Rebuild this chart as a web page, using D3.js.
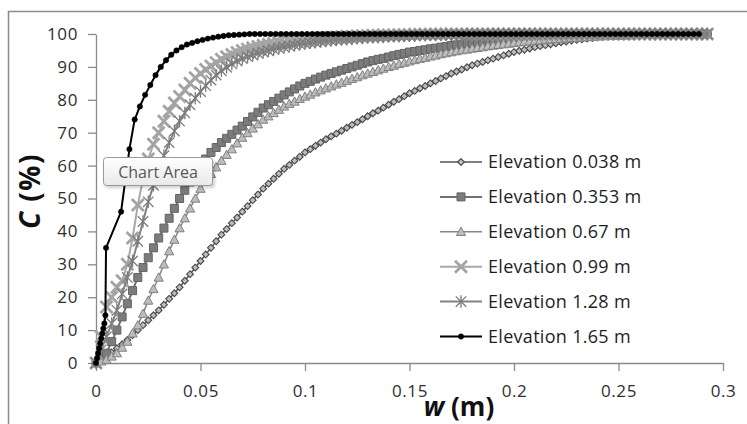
<!DOCTYPE html>
<html>
<head>
<meta charset="utf-8">
<script src="https://cdn.jsdelivr.net/npm/d3@7"></script>
<style>
  html, body { margin: 0; padding: 0; background: #fff; }
  svg { display: block; font-family: "Open Sans", "Noto Sans", sans-serif; }
</style>
</head>
<body>
<svg id="chart" width="747" height="424"></svg>
<script>
// Shared width grid (m) for the first five elevations
const W = [
  0, 0.0025, 0.005, 0.0075,
  0.01, 0.0125, 0.015, 0.0175,
  0.02, 0.0225, 0.025, 0.0275,
  0.03, 0.0325, 0.035, 0.0375,
  0.04, 0.0425, 0.045, 0.0475,
  0.05, 0.0525, 0.055, 0.0575,
  0.06, 0.0625, 0.065, 0.0675,
  0.07, 0.0725, 0.075, 0.0775,
  0.08, 0.0825, 0.085, 0.0875,
  0.09, 0.0925, 0.095, 0.0975,
  0.1, 0.1025, 0.105, 0.1075,
  0.11, 0.1125, 0.115, 0.1175,
  0.12, 0.1225, 0.125, 0.1275,
  0.13, 0.1325, 0.135, 0.1375,
  0.14, 0.1425, 0.145, 0.1475,
  0.15, 0.1525, 0.155, 0.1575,
  0.16, 0.1625, 0.165, 0.1675,
  0.17, 0.1725, 0.175, 0.1775,
  0.18, 0.1825, 0.185, 0.1875,
  0.19, 0.1925, 0.195, 0.1975,
  0.2, 0.2025, 0.205, 0.2075,
  0.21, 0.2125, 0.215, 0.2175,
  0.22, 0.2225, 0.225, 0.2275,
  0.23, 0.2325, 0.235, 0.2375,
  0.24, 0.2425, 0.245, 0.2475,
  0.25, 0.2525, 0.255, 0.2575,
  0.26, 0.2625, 0.265, 0.2675,
  0.27, 0.2725, 0.275, 0.2775,
  0.28, 0.2825, 0.285, 0.2875,
  0.29, 0.2925
];

// C (%) at each width in W
const c038 = [
  0, 0.9, 2, 3.2, 4.5, 5.7, 7, 8.5, 10, 11.5, 13, 14.5, 16, 17.7, 19.5, 21.2,
  23, 25, 27, 29, 31, 33, 35, 37, 39, 40.7, 42.5, 44.2, 46, 47.7, 49.5, 51.2,
  53, 54.5, 56, 57.5, 59, 60.2, 61.5, 62.7, 64, 65, 66, 67, 68, 68.9, 69.7, 70.6,
  71.5, 72.4, 73.2, 74.1, 75, 75.9, 76.7, 77.6, 78.5, 79.4, 80.2, 81.1,
  82, 82.7, 83.5, 84.2, 85, 85.7, 86.5, 87.2, 88, 88.6, 89.2, 89.9,
  90.5, 91, 91.5, 92, 92.5, 93, 93.5, 94, 94.5, 94.9, 95.2, 95.6,
  96, 96.3, 96.6, 96.9, 97.2, 97.5, 97.7, 98, 98.2, 98.4, 98.6, 98.8,
  99, 99.1, 99.2, 99.4, 99.5, 99.6, 99.7, 99.7, 99.8, 99.9, 99.9, 100,
  100, 100, 100, 100, 100, 100, 100, 100, 100, 100
];
const c353 = [
  0, 1.3, 3, 6.5, 10, 14, 18, 22, 26, 29, 32, 35, 38, 41, 44, 47,
  50, 52.5, 55, 57.5, 60, 62, 64, 65.5, 67, 68.3, 69.5, 70.8, 72, 73.4, 74.8, 76.2,
  77.5, 78.5, 79.5, 80.5, 81.5, 82.4, 83.3, 84.2, 85, 85.6, 86.3, 86.9, 87.5, 88, 88.5, 89,
  89.5, 90, 90.5, 91, 91.5, 91.9, 92.3, 92.6, 93, 93.4, 93.8, 94.1,
  94.5, 94.7, 95, 95.2, 95.5, 95.7, 96, 96.2, 96.5, 96.7, 96.9, 97.1,
  97.3, 97.5, 97.7, 97.8, 98, 98.1, 98.3, 98.4, 98.5, 98.7, 98.8, 99,
  99.1, 99.1, 99.2, 99.3, 99.3, 99.4, 99.4, 99.5, 99.5, 99.6, 99.6, 99.6,
  99.7, 99.7, 99.8, 99.8, 99.8, 99.8, 99.9, 99.9, 99.9, 99.9, 100, 100,
  100, 100, 100, 100, 100, 100, 100, 100, 100, 100
];
const c067 = [
  0, 0.5, 1, 2, 3, 4.7, 6.5, 9, 11.5, 15, 19, 22.5, 26, 30, 34, 37.5,
  41, 44, 47, 50, 53, 55.3, 57.5, 59.5, 61.5, 63.3, 65, 66.8, 68.5, 69.9, 71.3, 72.6,
  74, 75, 76, 77, 78, 78.8, 79.5, 80.3, 81, 81.6, 82.3, 82.9, 83.5, 84.1, 84.7, 85.2,
  85.8, 86.4, 86.9, 87.5, 88, 88.5, 89, 89.5, 90, 90.4, 90.9, 91.3,
  91.7, 92.1, 92.5, 92.8, 93.2, 93.5, 93.9, 94.2, 94.5, 94.8, 95.1, 95.3,
  95.6, 95.8, 96, 96.3, 96.5, 96.7, 96.9, 97.1, 97.3, 97.5, 97.7, 97.8,
  98, 98.1, 98.3, 98.4, 98.5, 98.6, 98.7, 98.8, 98.9, 99, 99.1, 99.2,
  99.3, 99.4, 99.4, 99.5, 99.5, 99.6, 99.6, 99.7, 99.7, 99.8, 99.8, 99.9,
  99.9, 99.9, 100, 100, 100, 100, 100, 100, 100, 100
];
const c099 = [
  0, 8, 17, 20, 23, 25, 30, 38, 48, 56, 62, 66.5, 70, 73.5, 76.5, 79,
  81, 83, 85, 86.7, 88, 89.2, 90.3, 91.3, 92.3, 93.1, 93.8, 94.4, 95, 95.4, 95.8, 96.2,
  96.6, 96.9, 97.1, 97.4, 97.6, 97.8, 98, 98.2, 98.3, 98.5, 98.6, 98.8, 98.9, 99, 99.1, 99.2,
  99.3, 99.3, 99.4, 99.5, 99.5, 99.6, 99.6, 99.7, 99.7, 99.7, 99.8, 99.8,
  99.8, 99.9, 99.9, 99.9, 99.9, 100, 100, 100, 100, 100, 100, 100,
  100, 100, 100, 100, 100, 100, 100, 100, 100, 100, 100, 100,
  100, 100, 100, 100, 100, 100, 100, 100, 100, 100, 100, 100,
  100, 100, 100, 100, 100, 100, 100, 100, 100, 100, 100, 100,
  100, 100, 100, 100, 100, 100, 100, 100, 100, 100
];
const c128 = [
  0, 4, 8, 12, 16, 21, 26, 31, 37, 43, 49, 54, 59, 63, 67, 70.5,
  73.5, 76, 78.5, 80.5, 82.5, 84.3, 86, 87.5, 88.8, 89.9, 90.9, 91.8, 92.5, 93.1, 93.6, 94.1,
  94.5, 94.9, 95.3, 95.7, 96, 96.3, 96.6, 96.9, 97.1, 97.3, 97.5, 97.7, 97.9, 98, 98.2, 98.3,
  98.4, 98.5, 98.7, 98.8, 98.9, 99, 99, 99.1, 99.2, 99.3, 99.3, 99.4,
  99.5, 99.5, 99.6, 99.6, 99.7, 99.7, 99.7, 99.8, 99.8, 99.8, 99.8, 99.9,
  99.9, 99.9, 99.9, 99.9, 100, 100, 100, 100, 100, 100, 100, 100,
  100, 100, 100, 100, 100, 100, 100, 100, 100, 100, 100, 100,
  100, 100, 100, 100, 100, 100, 100, 100, 100, 100, 100, 100,
  100, 100, 100, 100, 100, 100, 100, 100, 100, 100
];

// Elevation 1.65 m has its own width sampling
const w165 = [
  0, 0.0005, 0.001, 0.0015, 0.002, 0.0025, 0.003, 0.0035, 0.004, 0.0045, 0.0048, 0.012,
  0.016, 0.0185, 0.021, 0.0235, 0.026, 0.0285, 0.031, 0.0335, 0.036, 0.0385,
  0.041, 0.0435, 0.046, 0.0485, 0.051, 0.0535, 0.056, 0.0585, 0.061, 0.0635,
  0.066, 0.0685, 0.071, 0.0735, 0.076, 0.0785, 0.081, 0.0835, 0.086, 0.0885,
  0.091, 0.0935, 0.096, 0.0985, 0.101, 0.1035, 0.106, 0.1085, 0.111, 0.1135,
  0.116, 0.1185, 0.121, 0.1235, 0.126, 0.1285, 0.131, 0.1335, 0.136, 0.1385,
  0.141, 0.1435, 0.146, 0.1485, 0.151, 0.1535, 0.156, 0.1585, 0.161, 0.1635,
  0.166, 0.1685, 0.171, 0.1735, 0.176, 0.1785, 0.181, 0.1835, 0.186, 0.1885,
  0.191, 0.1935, 0.196, 0.1985, 0.201, 0.2035, 0.206, 0.2085, 0.211, 0.2135,
  0.216, 0.2185, 0.221, 0.2235, 0.226, 0.2285, 0.231, 0.2335, 0.236, 0.2385,
  0.241, 0.2435, 0.246, 0.2485, 0.251, 0.2535, 0.256, 0.2585, 0.261, 0.2635,
  0.266, 0.2685, 0.271, 0.2735, 0.276, 0.2785, 0.281, 0.2835, 0.286, 0.2885
];
const c165 = [
  0, 1.5, 3, 4.5, 6, 7.5, 9, 10.5, 12, 14.5, 35, 46,
  65, 74, 78, 81.5, 84.5, 87.5, 90, 92, 93.7, 95,
  96, 96.8, 97.3, 97.8, 98.2, 98.6, 98.9, 99.2, 99.4, 99.6,
  99.7, 99.8, 99.9, 100, 100, 100, 100, 100, 100, 100,
  100, 100, 100, 100, 100, 100, 100, 100, 100, 100,
  100, 100, 100, 100, 100, 100, 100, 100, 100, 100,
  100, 100, 100, 100, 100, 100, 100, 100, 100, 100,
  100, 100, 100, 100, 100, 100, 100, 100, 100, 100,
  100, 100, 100, 100, 100, 100, 100, 100, 100, 100,
  100, 100, 100, 100, 100, 100, 100, 100, 100, 100,
  100, 100, 100, 100, 100, 100, 100, 100, 100, 100,
  100, 100, 100, 100, 100, 100, 100, 100, 100, 100
];

const seriesNames = [
  "Elevation 0.038 m", "Elevation 0.353 m", "Elevation 0.67 m",
  "Elevation 0.99 m", "Elevation 1.28 m", "Elevation 1.65 m"
];
const xTicks = [0, 0.05, 0.1, 0.15, 0.2, 0.25, 0.3];
const xTickLabels = ["0", "0.05", "0.1", "0.15", "0.2", "0.25", "0.3"];
const yTicks = [0, 10, 20, 30, 40, 50, 60, 70, 80, 90, 100];

// Marker path builders (centred at 0,0)
const markerPaths = {
  diamond: s => `M0,${-s}L${s},0L0,${s}L${-s},0Z`,
  square: s => `M${-s},${-s}h${2 * s}v${2 * s}h${-2 * s}Z`,
  triangle: s => `M0,${-s}L${s},${s * 0.8}L${-s},${s * 0.8}Z`,
  cross: s => `M${-s},${-s}L${s},${s}M${s},${-s}L${-s},${s}`,
  star: s => `M${-s},${-s}L${s},${s}M${s},${-s}L${-s},${s}M0,${-s * 1.2}L0,${s * 1.2}`,
  circle: s => `M${s},0A${s},${s} 0 1,1 ${-s},0A${s},${s} 0 1,1 ${s},0Z`
};

const styles = [
  { line: "#555", lw: 1.5, shape: "diamond", size: 3.4, fill: "#bdbdbd", stroke: "#474747", sw: 1.1 },
  { line: "#707070", lw: 2, shape: "square", size: 4, fill: "#7c7c7c", stroke: "#636363", sw: 1 },
  { line: "#858585", lw: 1.5, shape: "triangle", size: 4.6, fill: "#bdbdbd", stroke: "#808080", sw: 1 },
  { line: "#a8a8a8", lw: 2, shape: "cross", size: 6, fill: "none", stroke: "#a4a4a4", sw: 2.8 },
  { line: "#828282", lw: 2, shape: "star", size: 5.2, fill: "none", stroke: "#7c7c7c", sw: 1.3 },
  { line: "#000", lw: 2, shape: "circle", size: 2.7, fill: "#000", stroke: "#000", sw: 0.5 }
];

const series = [
  W.map((w, i) => ({ w, c: c038[i] })),
  W.map((w, i) => ({ w, c: c353[i] })),
  W.map((w, i) => ({ w, c: c067[i] })),
  W.map((w, i) => ({ w, c: c099[i] })),
  W.map((w, i) => ({ w, c: c128[i] })),
  w165.map((w, i) => ({ w, c: c165[i] }))
];

const svg = d3.select("#chart");

// Chart area border
svg.append("rect")
  .attr("x", 8.5).attr("y", 11.5)
  .attr("width", 760).attr("height", 430)
  .attr("fill", "#fff").attr("stroke", "#8c8c8c").attr("stroke-width", 1.5);

const x = d3.scaleLinear().domain([0, 0.3]).range([96, 723]);
const y = d3.scaleLinear().domain([0, 100]).range([363, 34]);

const yAxis = svg.append("g")
  .attr("transform", "translate(96,0)")
  .call(d3.axisLeft(y).tickValues(yTicks).tickSize(8).tickSizeOuter(0).tickPadding(10));
const xAxis = svg.append("g")
  .attr("transform", "translate(0,363)")
  .call(d3.axisBottom(x).tickValues(xTicks).tickSize(8).tickSizeOuter(0).tickPadding(14)
    .tickFormat((d, i) => xTickLabels[i]));

[xAxis, yAxis].forEach(g => {
  g.select(".domain").attr("stroke", "#8a8a8a").attr("stroke-width", 1.3);
  g.selectAll(".tick line").attr("stroke", "#8a8a8a").attr("stroke-width", 1.3);
  g.selectAll(".tick text")
    .attr("fill", "#2e2e2e")
    .style("font-family", "'Open Sans', sans-serif")
    .style("font-size", "17px")
    .style("letter-spacing", "0.6px");
});

// Series lines and markers
const line = d3.line().x(d => x(d.w)).y(d => y(d.c));
series.forEach((data, k) => {
  const st = styles[k];
  const g = svg.append("g");
  g.append("path")
    .attr("d", line(data))
    .attr("fill", "none")
    .attr("stroke", st.line)
    .attr("stroke-width", st.lw)
    .attr("stroke-linejoin", "round");
  g.selectAll("path.m")
    .data(data)
    .join("path")
    .attr("class", "m")
    .attr("transform", d => `translate(${x(d.w)},${y(d.c)})`)
    .attr("d", markerPaths[st.shape](st.size))
    .attr("fill", st.fill)
    .attr("stroke", st.stroke)
    .attr("stroke-width", st.sw);
});

// Legend
const legend = svg.append("g");
seriesNames.forEach((name, k) => {
  const st = styles[k];
  const ly = 162 + k * 34.9;
  legend.append("line")
    .attr("x1", 440).attr("x2", 482).attr("y1", ly).attr("y2", ly)
    .attr("stroke", st.line).attr("stroke-width", st.lw);
  legend.append("path")
    .attr("transform", `translate(461,${ly})`)
    .attr("d", markerPaths[st.shape](st.size))
    .attr("fill", st.fill).attr("stroke", st.stroke).attr("stroke-width", st.sw);
  legend.append("text")
    .attr("x", 488).attr("y", ly).attr("dy", "0.35em")
    .attr("fill", "#1e1e1e")
    .style("font-size", "18px")
    .style("letter-spacing", "0.3px")
    .text(name);
});

// Axis titles
const yTitle = svg.append("text")
  .attr("transform", "translate(40,191) rotate(-90)")
  .attr("text-anchor", "middle")
  .style("font-size", "28px").style("font-weight", "bold")
  .style("letter-spacing", "1.5px").attr("fill", "#111");
yTitle.append("tspan").style("font-style", "italic").text("C");
yTitle.append("tspan").text(" (%)");

const xTitle = svg.append("text")
  .attr("x", 459).attr("y", 416)
  .attr("text-anchor", "middle")
  .style("font-size", "26px").style("font-weight", "bold").attr("fill", "#111");
xTitle.append("tspan").style("font-style", "italic").text("w");
xTitle.append("tspan").text(" (m)");

// Hover tip over the chart area
const defs = svg.append("defs");
const grad = defs.append("linearGradient").attr("id", "tipGrad")
  .attr("x1", 0).attr("y1", 0).attr("x2", 0).attr("y2", 1);
grad.append("stop").attr("offset", "0%").attr("stop-color", "#ffffff");
grad.append("stop").attr("offset", "100%").attr("stop-color", "#e9e9e9");
const blur = defs.append("filter").attr("id", "tipShadow")
  .attr("x", "-20%").attr("y", "-20%").attr("width", "140%").attr("height", "160%");
blur.append("feGaussianBlur").attr("stdDeviation", 1.5);

svg.append("rect")
  .attr("x", 105).attr("y", 160).attr("width", 110).attr("height", 28).attr("rx", 3)
  .attr("fill", "#000").attr("opacity", 0.18).attr("filter", "url(#tipShadow)");
svg.append("rect")
  .attr("x", 103.5).attr("y", 157.5).attr("width", 109).attr("height", 28).attr("rx", 3)
  .attr("fill", "url(#tipGrad)").attr("stroke", "#9a9a9a");
svg.append("text")
  .attr("x", 158).attr("y", 172).attr("dy", "0.35em").attr("text-anchor", "middle")
  .attr("fill", "#575757").style("font-size", "16px")
  .text("Chart Area");
</script>
</body>
</html>
